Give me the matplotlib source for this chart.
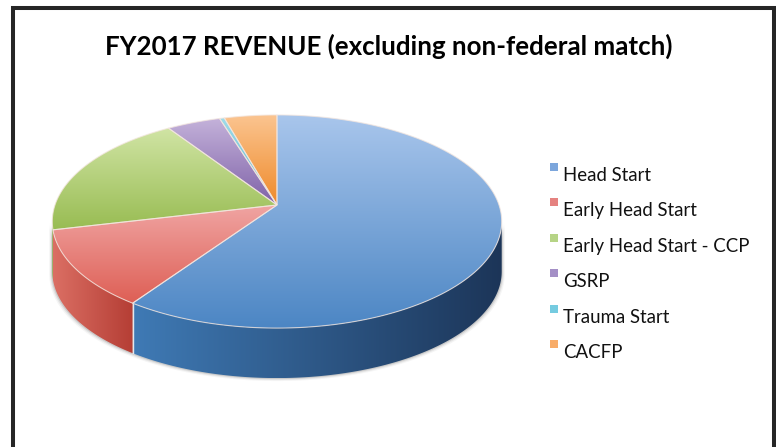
import numpy as np
import matplotlib
matplotlib.use("Agg")
import matplotlib.pyplot as plt
from matplotlib.patches import Polygon, Rectangle
from matplotlib.legend_handler import HandlerPatch
from matplotlib.colors import LinearSegmentedColormap

plt.rcParams['font.family'] = ['Lato', 'DejaVu Sans']

title = "FY2017 REVENUE (excluding non-federal match)"
categories = ["Head Start", "Early Head Start", "Early Head Start - CCP",
              "GSRP", "Trauma Start", "CACFP"]
values = [59.6, 11.7, 19.4, 4.5, 0.4, 4.4]

top_light = ["#A9C6EC", "#F0A5A3", "#D0E4A4", "#C4B2DA", "#A0DCEA", "#FBC591"]
top_dark = ["#4C86C4", "#DE5F55", "#98BC52", "#7F62A8", "#4FB4CE", "#EF8A2A"]
side_light = ["#3F7AB5", "#DB6F64", "#98BC52", "#7F62A8", "#4FB4CE", "#EF8A2A"]
side_dark = ["#1C3558", "#B53E35", "#7A9A3E", "#5F4A80", "#3A8CA0", "#B86A20"]
legend_colors = ["#7CA6DC", "#E58280", "#B6D486", "#A48FC6", "#75CBE0", "#F8AC68"]

W, H = 776, 447
fig = plt.figure(figsize=(W / 100, H / 100), dpi=100)
ax = fig.add_axes([0, 0, 1, 1])
ax.set_xlim(0, W)
ax.set_ylim(H, 0)
ax.axis("off")

# projective view of the tilted disc
APEX_X, APEX_Y = 277.0, 205.0
A, B, K = 222.0, 104.0, 0.155
DEPTH = 50.0
RIM_Y = 221.0


def project(theta):
    """Clockwise angle from 12 o'clock on the disc -> picture position."""
    u, v = np.sin(theta), np.cos(theta)
    w = 1 + K * v
    return APEX_X + A * u / w, APEX_Y - B * v / w


def gradient(poly, c0, c1, horizontal=False, z=2):
    """Fill a polygon with a linear gradient across its own bounding box."""
    xy = np.asarray(poly)
    x0, x1, y0, y1 = xy[:, 0].min(), xy[:, 0].max(), xy[:, 1].min(), xy[:, 1].max()
    g = np.linspace(0, 1, 256)
    g = g[None, :] if horizontal else g[:, None]
    cmap = LinearSegmentedColormap.from_list("g", [c0, c1])
    im = ax.imshow(g, cmap=cmap, extent=(x0, x1, y1, y0), origin="upper",
                   aspect="auto", zorder=z, vmin=0, vmax=1)
    im.set_clip_path(Polygon(xy, closed=True, transform=ax.transData))


fracs = np.asarray(values, float) / np.sum(values)
edges = np.concatenate([[0], np.cumsum(fracs)]) * 2 * np.pi

# soft shadow around the disc
full = np.linspace(0, 2 * np.pi, 361)
fx, fy = project(full)
for grow, alpha in [(3.0, 0.06), (2.0, 0.10), (1.0, 0.18)]:
    low = fy >= RIM_Y
    sx = np.concatenate([fx[low], fx[low][::-1]])
    sy = np.concatenate([fy[low] + DEPTH + grow, fy[low][::-1]])
    sx = APEX_X + (sx - APEX_X) * (1 + grow / 225)
    ax.fill(sx, sy, color="#555555", alpha=alpha, lw=0, zorder=1)

# rim
for i in range(len(values)):
    t = np.linspace(edges[i], edges[i + 1], 300)
    x, y = project(t)
    keep = y >= RIM_Y
    if keep.sum() < 2:
        continue
    x, y = x[keep], y[keep]
    poly = np.column_stack([np.r_[x, x[::-1]], np.r_[y, y[::-1] + DEPTH]])
    gradient(poly, side_light[i], side_dark[i], horizontal=True, z=2)

# seam between rim segments
sx, sy = project(edges[1])
ax.plot([sx, sx], [sy, sy + DEPTH], color="#E6E6EA", lw=1, zorder=3)

# top face
for i in range(len(values)):
    t = np.linspace(edges[i], edges[i + 1], 300)
    x, y = project(t)
    poly = np.column_stack([np.r_[APEX_X, x], np.r_[APEX_Y, y]])
    gradient(poly, top_light[i], top_dark[i], z=4)
    ax.add_patch(Polygon(poly, closed=True, fill=False, ec="#F3E6DF", lw=0.8,
                         alpha=0.75, zorder=5))

# frame: open at the bottom edge
ax.plot([12.5, 12.5, 773.5, 773.5], [H, 7.5, 7.5, H], color="#262626", lw=2.9,
        solid_joinstyle="miter", zorder=6)

ax.text(388.5, 46, title, ha="center", va="center", fontsize=18.6,
        fontweight="bold", color="black", zorder=6)


class RaisedSquare(HandlerPatch):
    def create_artists(self, legend, orig, xd, yd, width, height, fontsize, trans):
        r = Rectangle((0, yd + 7.2), 5.8, 5.8, facecolor=orig.get_facecolor(),
                      edgecolor="none", transform=trans)
        return [r]


handles = [Rectangle((0, 0), 1, 1, facecolor=c) for c in legend_colors]
ax.legend(handles, categories, handler_map={Rectangle: RaisedSquare()},
          loc="upper left", bbox_to_anchor=(550 / W, 1 - 167 / H),
          bbox_transform=ax.transAxes, frameon=False, fontsize=13.4,
          handlelength=0.6, handletextpad=0.1, labelspacing=0.99,
          borderpad=0, borderaxespad=0, labelcolor="#111111")

fig.savefig("out.png", dpi=100, facecolor="white")
